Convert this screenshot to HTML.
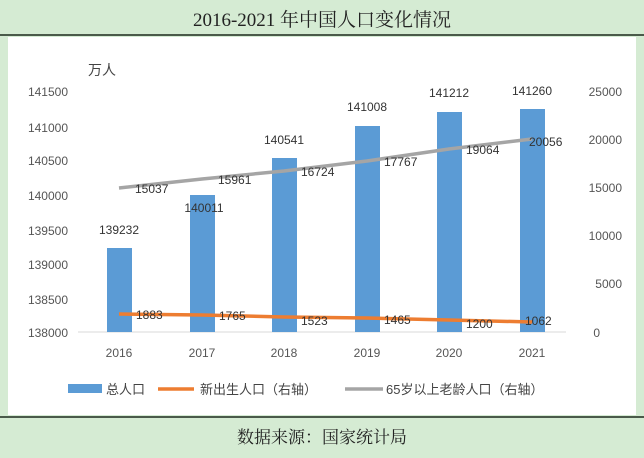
<!DOCTYPE html>
<html><head><meta charset="utf-8"><style>
body{margin:0;width:644px;height:453px;background:#d5ebd3;overflow:hidden;font-family:"Liberation Sans","Noto Sans CJK SC",sans-serif}
</style></head><body>
<svg width="644" height="453" xmlns="http://www.w3.org/2000/svg" font-family="Liberation Sans, Noto Sans CJK SC, sans-serif">
<rect width="644" height="453" fill="#d5ebd3"/>
<text x="322" y="26" font-size="19" text-anchor="middle" fill="#222" font-family="Liberation Serif, Noto Serif CJK SC, serif">2016-2021 年中国人口变化情况</text>
<line x1="0" y1="35" x2="644" y2="35" stroke="#4a5a4a" stroke-width="2"/>
<rect x="8" y="37" width="628" height="378" fill="#fff"/>
<line x1="0" y1="417" x2="644" y2="417" stroke="#4a5a4a" stroke-width="2"/>
<text x="322" y="443" font-size="17" text-anchor="middle" fill="#222" font-family="Noto Serif CJK SC, serif">数据来源：国家统计局</text>
<text x="88" y="75" font-size="14" fill="#444">万人</text>
<g font-size="12" fill="#555" text-anchor="end">
<text x="68" y="96">141500</text><text x="68" y="132">141000</text><text x="68" y="165">140500</text><text x="68" y="200">140000</text><text x="68" y="235">139500</text><text x="68" y="269">139000</text><text x="68" y="304">138500</text><text x="68" y="337">138000</text>
</g>
<g font-size="12" fill="#555" text-anchor="end">
<text x="622" y="96">25000</text><text x="622" y="144">20000</text><text x="622" y="192">15000</text><text x="622" y="240">10000</text><text x="622" y="288">5000</text><text x="600" y="337">0</text>
</g>
<line x1="78" y1="332" x2="566" y2="332" stroke="#d9d9d9"/>
<g fill="#5b9bd5">
<rect x="107" y="248" width="25" height="84"/>
<rect x="190" y="195" width="25" height="137"/>
<rect x="272" y="158" width="25" height="174"/>
<rect x="355" y="126" width="25" height="206"/>
<rect x="437" y="112" width="25" height="220"/>
<rect x="520" y="109" width="25" height="223"/>
</g>
<g font-size="12" fill="#333" text-anchor="middle">
<text x="119" y="234">139232</text><text x="204" y="212">140011</text><text x="284" y="144">140541</text><text x="367" y="111">141008</text><text x="449" y="97">141212</text><text x="532" y="95">141260</text>
</g>
<polyline points="119,314 202,315 284,317 367,318 449,320 532,322" fill="none" stroke="#ed7d31" stroke-width="3.5"/>
<polyline points="119,188 202,179 284,171 367,161 449,149 532,139" fill="none" stroke="#a5a5a5" stroke-width="3.5"/>
<g font-size="12" fill="#333">
<text x="136" y="319">1883</text><text x="219" y="320">1765</text><text x="301" y="325">1523</text><text x="384" y="324">1465</text><text x="466" y="328">1200</text><text x="525" y="325">1062</text>
<text x="135" y="193">15037</text><text x="218" y="184">15961</text><text x="301" y="176">16724</text><text x="384" y="166">17767</text><text x="466" y="154">19064</text><text x="529" y="146">20056</text>
</g>
<g font-size="12" fill="#555" text-anchor="middle">
<text x="119" y="357">2016</text><text x="202" y="357">2017</text><text x="284" y="357">2018</text><text x="367" y="357">2019</text><text x="449" y="357">2020</text><text x="532" y="357">2021</text>
</g>
<rect x="68" y="384" width="34" height="9" fill="#5b9bd5"/>
<text x="106" y="394" font-size="13" fill="#444">总人口</text>
<line x1="158" y1="389" x2="194" y2="389" stroke="#ed7d31" stroke-width="3.5"/>
<text x="200" y="394" font-size="13" fill="#444">新出生人口（右轴）</text>
<line x1="345" y1="389" x2="383" y2="389" stroke="#a5a5a5" stroke-width="3.5"/>
<text x="386" y="394" font-size="13" fill="#444">65岁以上老龄人口（右轴）</text>
</svg>
</body></html>
